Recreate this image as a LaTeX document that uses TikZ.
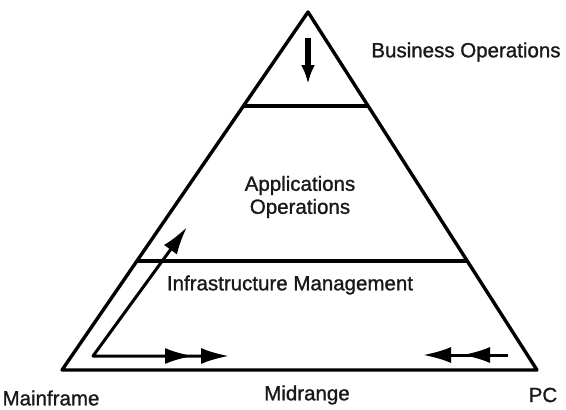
\documentclass[tikz,border=0pt]{standalone}
\usepackage{fontspec}
\setmainfont[FakeBold=1.2]{Liberation Sans}
\usetikzlibrary{arrows.meta,calc}
\begin{document}
\begin{tikzpicture}[x=1pt,y=-1pt,line join=round,
  edge/.style={line width=3.4pt},
  arr/.style={line width=3pt},
  lbl/.style={font=\fontsize{20.5}{23}\selectfont,inner sep=0pt,text=black!90,align=center}]
\useasboundingbox (0,0) rectangle (566,410);
% triangle
\coordinate (apex) at (308,12);
\coordinate (bl) at (62,370);
\coordinate (br) at (537,370);
\draw[edge] (apex) -- (bl) -- (br) -- cycle;
\coordinate (u1) at ($(apex)!0.2626!(bl)$);
\coordinate (u2) at ($(apex)!0.2626!(br)$);
\coordinate (m1) at ($(apex)!0.6955!(bl)$);
\coordinate (m2) at ($(apex)!0.6955!(br)$);
\draw[edge] (u1) -- (u2);
\draw[edge] (m1) -- (m2);
% top down arrow
\coordinate (dtop) at (308,38);
\coordinate (dtip) at (308,84);
\draw[line width=5.5pt,-{Latex[length=19pt,width=14pt]}] (dtop) -- (dtip);
% L arrow
\coordinate (Lc) at (93,356);
\coordinate (Lup) at (187,227);
\coordinate (Lright) at (229,356);
\draw[arr,{Latex[length=28pt,width=16pt]}-{Latex[length=28pt,width=16pt,sep=8pt]Latex[length=28pt,width=16pt]}] (Lup) -- (Lc) -- (Lright);
% right arrow
\coordinate (Rs) at (508,355);
\coordinate (Rtip) at (423,355);
\draw[arr,-{Latex[length=28pt,width=16pt,sep=11pt]Latex[length=28pt,width=16pt]}] (Rs) -- (Rtip);
% labels
\node[lbl] (bus) at (466,52) {Business Operations};
\node[lbl] (app) at (300,197) {Applications\\Operations};
\node[lbl] (inf) at (290,285) {Infrastructure Management};
\node[lbl] (main) at (51,398) {Mainframe};
\node[lbl] (mid) at (307,395) {Midrange};
\node[lbl] (pc) at (543,395) {PC};
\end{tikzpicture}
\end{document}
